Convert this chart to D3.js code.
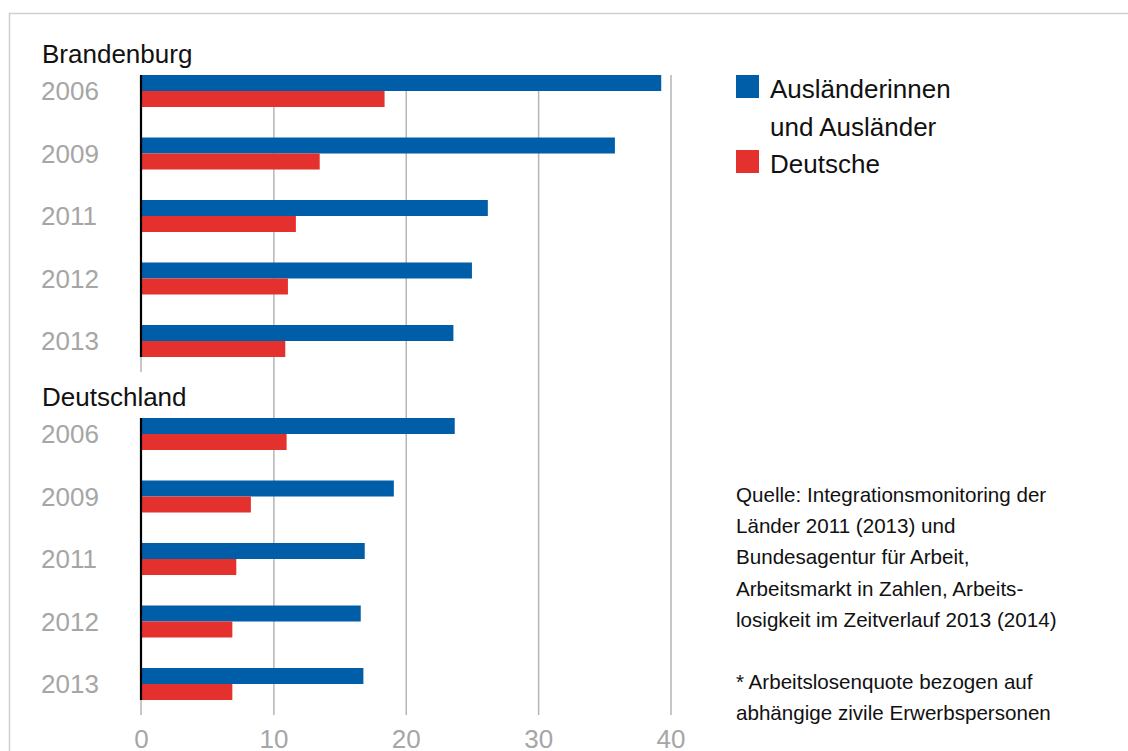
<!DOCTYPE html>
<html>
<head>
<meta charset="utf-8">
<script src="https://cdn.jsdelivr.net/npm/d3@7"></script>
<style>
  html, body { margin: 0; padding: 0; background: #fff; }
  svg { display: block; font-family: "Liberation Sans", Arial, Helvetica, sans-serif; }
</style>
</head>
<body>
<svg id="chart" width="1128" height="751"></svg>
<script>
// ---- data ----
const years = ["2006", "2009", "2011", "2012", "2013"];
const regions = ["Brandenburg", "Deutschland"];
const seriesKeys = ["ausl", "deut"];
const auslBrandenburg = [39.3, 35.8, 26.2, 25.0, 23.6];
const deutBrandenburg = [18.4, 13.5, 11.7, 11.1, 10.9];
const auslDeutschland = [23.7, 19.1, 16.9, 16.6, 16.8];
const deutDeutschland = [11.0, 8.3, 7.2, 6.9, 6.9];
const legendLabels = [["Ausländerinnen", "und Ausländer"], ["Deutsche"]];
const xTicks = [0, 10, 20, 30, 40];
const noteLines = [
  "Quelle: Integrationsmonitoring der",
  "Länder 2011 (2013) und",
  "Bundesagentur für Arbeit,",
  "Arbeitsmarkt in Zahlen, Arbeits-",
  "losigkeit im Zeitverlauf 2013 (2014)",
  "",
  "* Arbeitslosenquote bezogen auf",
  "abhängige zivile Erwerbspersonen"
];

// ---- styles ----
const colors = { ausl: "#005da8", deut: "#e4312d" };
const gray = "#a6a6a6";
const gridColor = "#b5b5b5";

const panelData = [
  { name: regions[0], ausl: auslBrandenburg, deut: deutBrandenburg, top: 75 },
  { name: regions[1], ausl: auslDeutschland, deut: deutDeutschland, top: 418 }
];
const panelH = 282;
const gridTop = 75, gridBottom = 715;

const svg = d3.select("#chart");

// frame
svg.append("path")
  .attr("d", "M9.5,751 V13.5 H1128")
  .attr("fill", "none")
  .attr("stroke", "#d0d0d0")
  .attr("stroke-width", 1.5);

const x = d3.scaleLinear().domain([0, 40]).range([141, 670.5]);

// gridlines
const grid = svg.append("g")
  .attr("transform", `translate(0,${gridBottom})`)
  .call(d3.axisBottom(x).tickValues(xTicks.slice(1)).tickSize(-(gridBottom - gridTop)).tickFormat(""));
grid.select(".domain").remove();
grid.selectAll(".tick line").attr("stroke", gridColor).attr("stroke-width", 1.5);

// x tick labels
const xAxis = svg.append("g")
  .attr("transform", "translate(0,730)")
  .call(d3.axisBottom(x).tickValues(xTicks).tickSize(0).tickPadding(0));
xAxis.select(".domain").remove();
xAxis.selectAll("text")
  .attr("fill", gray)
  .attr("font-size", 26)
  .attr("font-family", "'Liberation Sans', Arial, sans-serif");

panelData.forEach(p => {
  const y = d3.scaleBand().domain(years).range([p.top, p.top + panelH])
    .paddingInner(30.5 / 62.5).paddingOuter(0);
  const ySub = d3.scaleBand().domain(seriesKeys).range([0, y.bandwidth()]);
  const g = svg.append("g");

  // region title
  g.append("text")
    .attr("x", 42).attr("y", p.top - 12)
    .attr("font-size", 26).attr("fill", "#111")
    .text(p.name);

  // year labels
  g.selectAll("text.year").data(years).join("text")
    .attr("class", "year")
    .attr("x", 41)
    .attr("y", d => y(d) + y.bandwidth() / 2 + 9.4)
    .attr("font-size", 26).attr("fill", gray)
    .text(d => d);

  // zero line gray extension
  g.append("line")
    .attr("x1", x(0)).attr("x2", x(0))
    .attr("y1", p.top + panelH - 2).attr("y2", p.top + panelH + 15)
    .attr("stroke", gridColor).attr("stroke-width", 1.5);

  // bars
  seriesKeys.forEach(k => {
    g.selectAll("rect." + k).data(years.map((yr, i) => ({ yr, v: p[k][i] }))).join("rect")
      .attr("class", k)
      .attr("x", x(0))
      .attr("y", d => y(d.yr) + ySub(k))
      .attr("width", d => x(d.v) - x(0))
      .attr("height", ySub.bandwidth())
      .attr("fill", colors[k]);
  });

  // zero axis line
  g.append("line")
    .attr("x1", x(0)).attr("x2", x(0))
    .attr("y1", p.top).attr("y2", p.top + panelH)
    .attr("stroke", "#000").attr("stroke-width", 2.2);
});

// legend
const legend = svg.append("g");
const legendRows = [{ k: "ausl", y: 75 }, { k: "deut", y: 150 }];
legendRows.forEach((r, i) => {
  legend.append("rect")
    .attr("x", 736).attr("y", r.y).attr("width", 23).attr("height", 23)
    .attr("fill", colors[r.k]);
  legendLabels[i].forEach((line, j) => {
    legend.append("text")
      .attr("x", 770).attr("y", r.y + 23 + j * 37.5)
      .attr("font-size", 26).attr("fill", "#111")
      .text(line);
  });
});

// notes
svg.append("g").selectAll("text").data(noteLines).join("text")
  .attr("x", 736)
  .attr("y", (d, i) => 502 + i * 31.2)
  .attr("font-size", 20.6)
  .attr("fill", "#111")
  .text(d => d);
</script>
</body>
</html>
